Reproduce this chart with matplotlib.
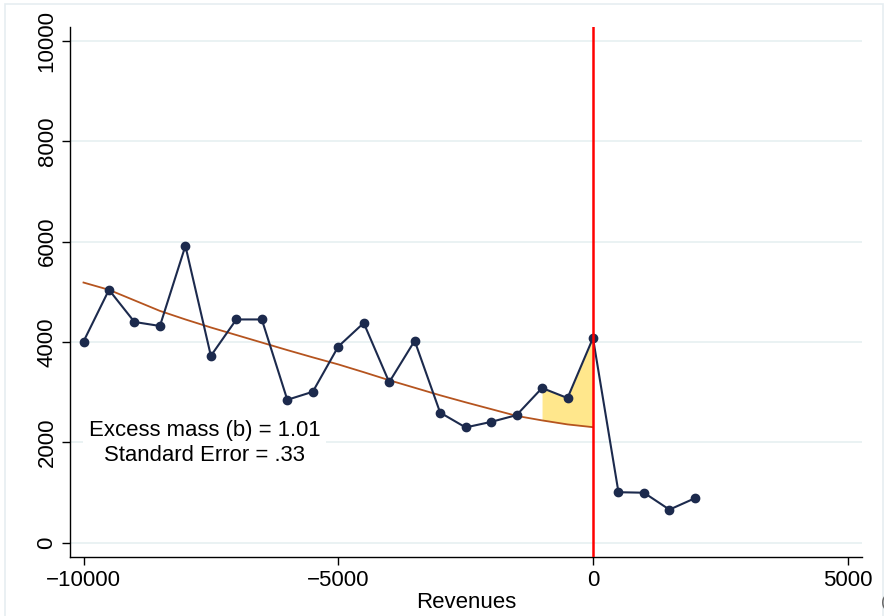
import matplotlib
matplotlib.use("Agg")
import matplotlib.pyplot as plt
from matplotlib.patches import Rectangle

plt.rcParams['font.family'] = ['Liberation Sans', 'DejaVu Sans']

# revenue bins (bin width 500) and observed counts
bins = [-10000, -9500, -9000, -8500, -8000, -7500, -7000, -6500, -6000, -5500,
        -5000, -4500, -4000, -3500, -3000, -2500, -2000, -1500, -1000, -500,
        0, 500, 1000, 1500, 2000]
counts = [4010, 5040, 4400, 4320, 5915, 3725, 4450, 4450, 2850, 3010,
          3910, 4380, 3200, 4025, 2595, 2300, 2410, 2545, 3085, 2885,
          4080, 1010, 1000, 663, 890]

# counterfactual polynomial fit, left of the threshold
fit_bins = [-10000, -9500, -9000, -8500, -8000, -7500, -7000, -6500, -6000,
            -5500, -5000, -4500, -4000, -3500, -3000, -2500, -2000, -1500,
            -1000, -500, 0]
fit = [5185, 5040, 4830, 4620, 4450, 4290, 4140, 3990, 3840,
       3695, 3555, 3400, 3240, 3090, 2940, 2800, 2665, 2530,
       2440, 2360, 2305]

# excess mass region
exc_bins = [-1000, -500, 0]
exc_obs = [3085, 2885, 4080]
exc_fit = [2440, 2360, 2305]

yticks = [0, 2000, 4000, 6000, 8000, 10000]
xticks = [-10000, -5000, 0, 5000]

fig = plt.figure(figsize=(8.84, 6.16), dpi=100)
fig.patches.append(Rectangle((5 / 884, -0.1), 878 / 884, 1.1 - 4 / 616,
                             transform=fig.transFigure, fill=False,
                             edgecolor='#e6edf1', linewidth=1.2))
ax = fig.add_axes([70 / 884, 59 / 616, 792 / 884, 530 / 616])

for yt in yticks:
    ax.axhline(yt, color='#eaf2f3', linewidth=1.4, zorder=0)

ax.fill_between(exc_bins, exc_fit, exc_obs, color='#ffe78c', linewidth=0, zorder=1)
ax.plot(fit_bins, fit, color='#b5541f', linewidth=1.3, zorder=2)
ax.plot(bins, counts, color='#1c2a4d', linewidth=1.5, marker='o',
        markersize=6, zorder=3)
ax.axvline(0, color='#ff0000', linewidth=1.8, zorder=4)

ax.text(-7620, 1990, "Excess mass (b) = 1.01\nStandard Error = .33",
        ha='center', va='center', multialignment='center', fontsize=15.9,
        linespacing=1.2,
        bbox=dict(facecolor='white', edgecolor='none', pad=4), zorder=5)

ax.set_xlim(-10265, 5280)
ax.set_ylim(-280, 10273)
ax.set_xticks(xticks)
ax.set_xticklabels(['\u221210000', '\u22125000', '0', '5000'])
ax.set_yticks(yticks)
ax.set_yticklabels([str(v) for v in yticks], rotation=90, va='center')
ax.tick_params(axis='both', direction='out', length=6, width=1,
               labelsize=16, pad=3)
ax.set_xlabel('Revenues', fontsize=16, labelpad=1)

for s in ['top', 'right']:
    ax.spines[s].set_visible(False)
for s in ['left', 'bottom']:
    ax.spines[s].set_linewidth(1)

fig.text(881 / 884, 6 / 616, '(', fontsize=12, color='#666666',
         ha='left', va='bottom')

fig.savefig('out.png', dpi=100)
plt.close()
